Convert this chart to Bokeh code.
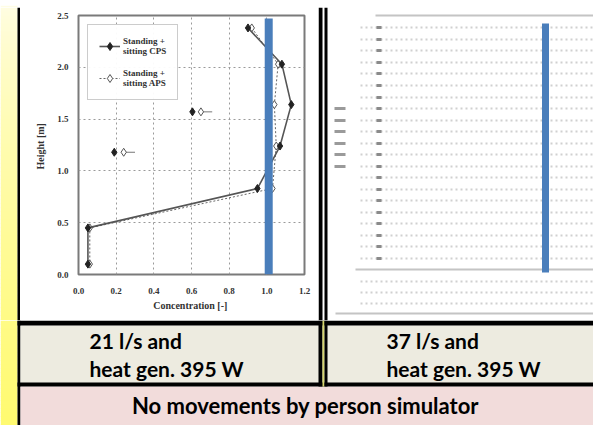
from bokeh.plotting import figure
from bokeh.layouts import row, column
from bokeh.models import Range1d, FixedTicker, PrintfTickFormatter, Legend, LegendItem
from bokeh.core.properties import value
from bokeh.embed import file_html
from bokeh.resources import INLINE

# ---------------- data ----------------
height_m = [2.38, 2.03, 1.64, 1.24, 0.83, 0.45, 0.10]
conc_cps = [0.90, 1.08, 1.13, 1.07, 0.95, 0.05, 0.05]
conc_aps = [0.92, 1.06, 1.04, 1.05, 1.03, 0.06, 0.06]
stray_height = [1.57, 1.18]
stray_cps = [0.605, 0.19]
stray_aps = [0.65, 0.24]
ref_conc = [1.01]
x_ticks = [0.0, 0.2, 0.4, 0.6, 0.8, 1.0, 1.2]
y_ticks = [0.0, 0.5, 1.0, 1.5, 2.0, 2.5]
legend_labels = ["Standing +\nsitting CPS", "Standing +\nsitting APS"]
caption_left = ["21 l/s and", "heat gen. 395 W"]
caption_right = ["37 l/s and", "heat gen. 395 W"]
footer = "No movements by person simulator"

BLUE = "#4A7EBB"
BEIGE = "#EDEBE0"
PINK = "#F2DCDB"


def yellow_color(y):
    t = min(max(y / 425.0, 0), 1) ** 0.7
    top = (255, 253, 232)
    bot = (255, 250, 112)
    c = [int(round(a + (b - a) * t)) for a, b in zip(top, bot)]
    return "#%02x%02x%02x" % tuple(c)


def blank(width, height, x0, x1, y0, y1):
    f = figure(width=width, height=height, x_range=Range1d(x0, x1), y_range=Range1d(y1, y0),
               x_axis_type=None, y_axis_type=None, toolbar_location=None, output_backend="svg",
               min_border=0, min_border_left=0, min_border_right=0, min_border_top=0,
               min_border_bottom=0, background_fill_color="white", border_fill_color="white",
               frame_align=False)
    f.outline_line_color = None
    f.grid.visible = False
    return f


def gradient(f, x0, x1, y0, y1, step=4):
    lefts, rights, tops, bottoms, cols = [], [], [], [], []
    y = y0
    while y < y1:
        lefts.append(x0); rights.append(x1); tops.append(y); bottoms.append(min(y + step + 0.5, y1))
        cols.append(yellow_color(y + step / 2))
        y += step
    f.quad(left=lefts, right=rights, top=tops, bottom=bottoms, fill_color=cols, line_color=None)


# ---------------- top strip ----------------
tp = blank(593, 7, 0, 593, 0, 7)
gradient(tp, 0, 17, 0, 7)
tp.quad(left=[17, 324], right=[322, 593], top=[3, 3], bottom=[7, 7], fill_color="black", line_color=None)

# ---------------- left yellow strip ----------------
yl = blank(20, 313, 0, 20, 7, 320)
gradient(yl, 0, 17, 7, 320)
yl.quad(left=[17], right=[20], top=[7], bottom=[320], fill_color="black", line_color=None)

# ---------------- chart ----------------
p = figure(width=298, height=313, x_range=Range1d(0, 1.2), y_range=Range1d(0, 2.5),
           toolbar_location=None, output_backend="svg", frame_align=False,
           min_border_left=58, min_border_right=14, min_border_top=8, min_border_bottom=46,
           background_fill_color="white", border_fill_color="white")
p.outline_line_color = "#7a7a7a"
p.outline_line_width = 2

p.xgrid.ticker = FixedTicker(ticks=[0.2, 0.4, 0.6, 0.8, 1.0])
p.ygrid.ticker = FixedTicker(ticks=[0.5, 1.0, 1.5, 2.0])
p.grid.grid_line_color = "#9a9a9a"
p.grid.grid_line_dash = "2 3"
p.grid.grid_line_width = 1

p.xaxis.ticker = FixedTicker(ticks=x_ticks)
p.yaxis.ticker = FixedTicker(ticks=y_ticks)
p.axis.formatter = PrintfTickFormatter(format="%.1f")
p.axis.axis_line_color = None
p.axis.major_tick_line_color = None
p.axis.minor_tick_line_color = None
p.axis.major_tick_out = 0
p.axis.major_tick_in = 0
p.axis.major_label_text_font = "Liberation Serif"
p.axis.major_label_text_font_style = "bold"
p.axis.major_label_text_font_size = "9px"
p.axis.major_label_text_color = "#333333"
p.xaxis.major_label_standoff = 13
p.yaxis.major_label_standoff = 10
p.xaxis.axis_label = "Concentration  [-]"
p.yaxis.axis_label = "Height  [m]"
p.axis.axis_label_text_font = "Liberation Serif"
p.axis.axis_label_text_font_style = "bold"
p.axis.axis_label_text_font_size = "10px"
p.axis.axis_label_text_color = "#333333"
p.xaxis.axis_label_standoff = 3
p.yaxis.axis_label_standoff = 8

r_aps = p.line(conc_aps, height_m, line_color="#666666", line_width=1, line_dash="2 2")
r_aps_m = p.scatter(conc_aps, height_m, marker="diamond", size=8, fill_color="white",
                    line_color="#555555", line_width=1)
r_cps = p.line(conc_cps, height_m, line_color="#555555", line_width=1.6)
r_cps_m = p.scatter(conc_cps, height_m, marker="diamond", size=8, fill_color="#222222",
                    line_color="#222222")

# stray markers
p.segment(x0=stray_aps, y0=stray_height, x1=[v + 0.06 for v in stray_aps], y1=stray_height,
          line_color="#777777", line_width=1)
p.scatter(stray_cps, stray_height, marker="diamond", size=8, fill_color="#222222", line_color="#222222")
p.scatter(stray_aps, stray_height, marker="diamond", size=8, fill_color="white", line_color="#555555")

legend = Legend(items=[LegendItem(label=legend_labels[0], renderers=[r_cps, r_cps_m]),
                       LegendItem(label=legend_labels[1], renderers=[r_aps, r_aps_m])],
                location="top_left")
legend.margin = 9
legend.padding = 11
legend.spacing = 12
legend.glyph_width = 21
legend.label_standoff = 3
legend.border_line_color = "#999999"
legend.border_line_width = 1.5
legend.label_text_font = "Liberation Serif"
legend.label_text_font_style = "bold"
legend.label_text_font_size = "9px"
legend.label_text_color = "#333333"
p.add_layout(legend)

# reference line
p.segment(x0=ref_conc, y0=[0.0], x1=ref_conc, y1=[2.47], line_color=BLUE, line_width=8)

# ---------------- right panel (blurred table picture) ----------------
rp = blank(275, 313, 318, 593, 7, 320)
rp.quad(left=[318, 324], right=[322, 327], top=[7, 7], bottom=[320, 320], fill_color="black", line_color=None)
rows_y = [27, 39, 50, 62, 73, 85, 97, 108, 120, 131, 143, 154, 166, 177, 189, 200, 212, 223, 235, 246, 258,
          281, 292, 303]
rp.segment(x0=[360] * len(rows_y), y0=rows_y, x1=[593] * len(rows_y), y1=rows_y,
           line_color="#d0d0d0", line_width=2, line_dash="2 3")
rp.segment(x0=[376] * 21, y0=rows_y[:21], x1=[381] * 21, y1=rows_y[:21],
           line_color="#8a8a8a", line_width=3)
label_rows = [108, 120, 131, 143, 154, 166]
rp.segment(x0=[334] * len(label_rows), y0=label_rows, x1=[345] * len(label_rows), y1=label_rows,
           line_color="#9a9a9a", line_width=3)
rp.segment(x0=[375, 355, 335], y0=[15, 269, 313], x1=[593, 593, 593], y1=[15, 269, 313],
           line_color="#c4c4c4", line_width=2)
rp.segment(x0=[545], y0=[23], x1=[545], y1=[272], line_color=BLUE, line_width=7)

# ---------------- bottom captions ----------------
bt = blank(593, 105, 0, 593, 320, 425)
gradient(bt, 0, 17, 320, 425)
bt.quad(left=[17], right=[20], top=[320], bottom=[425], fill_color="black", line_color=None)
bt.quad(left=[20], right=[593], top=[325], bottom=[383], fill_color=BEIGE, line_color=None)
bt.quad(left=[20], right=[593], top=[386], bottom=[425], fill_color=PINK, line_color=None)
bt.quad(left=[17, 17], right=[593, 593], top=[320, 382], bottom=[325, 386], fill_color="black", line_color=None)
bt.quad(left=[318, 322, 324], right=[322, 324, 327], top=[320, 320, 320], bottom=[386, 386, 386],
        fill_color=["black", "#D6D66E", "black"], line_color=None)

bt.text(x=[89, 89], y=[340, 368], text=caption_left, text_font=value("Lato"), text_font_style="bold",
        text_font_size="21px", text_color="black", text_baseline="middle", text_align="left")
bt.text(x=[386, 386], y=[340, 368], text=caption_right, text_font=value("Lato"), text_font_style="bold",
        text_font_size="21px", text_color="black", text_baseline="middle", text_align="left")
bt.text(x=[305], y=[405], text=[footer], text_font=value("Lato"), text_font_style="bold",
        text_font_size="22px", text_color="black", text_baseline="middle", text_align="center")

layout = column(tp, row(yl, p, rp, spacing=0), bt, spacing=0)

with open("out.html", "w") as fh:
    fh.write(file_html(layout, INLINE))
